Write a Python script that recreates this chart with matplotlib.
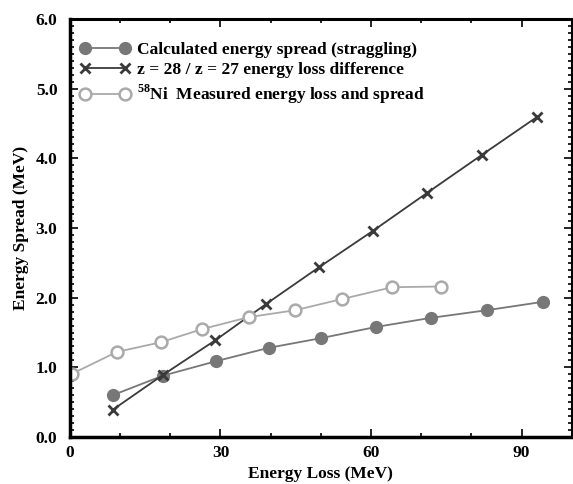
import matplotlib
matplotlib.use("Agg")
import matplotlib.pyplot as plt
from matplotlib.ticker import MultipleLocator, FormatStrFormatter

plt.rcParams['font.family'] = ['Liberation Serif', 'DejaVu Serif']
plt.rcParams['font.weight'] = 'bold'
plt.rcParams['mathtext.fontset'] = 'custom'
plt.rcParams['mathtext.rm'] = 'Liberation Serif:bold'
plt.rcParams['mathtext.bf'] = 'Liberation Serif:bold'

# Calculated energy spread (straggling)
calc_x = [8.5, 18.5, 29.2, 39.6, 50.1, 61.0, 71.9, 83.1, 94.2]
calc_y = [0.60, 0.88, 1.09, 1.28, 1.42, 1.58, 1.71, 1.82, 1.94]

# z = 28 / z = 27 energy loss difference
diff_x = [8.5, 18.5, 29.0, 39.1, 49.7, 60.4, 71.1, 82.1, 93.0]
diff_y = [0.39, 0.89, 1.39, 1.91, 2.44, 2.96, 3.50, 4.05, 4.59]

# 58Ni measured energy loss and spread
meas_x = [0.5, 9.3, 18.1, 26.4, 35.6, 44.9, 54.2, 64.2, 73.9]
meas_y = [0.91, 1.22, 1.36, 1.55, 1.72, 1.82, 1.98, 2.15, 2.16]

labels = ["Calculated energy spread (straggling)",
          "z = 28 / z = 27 energy loss difference",
          r"$^{58}$Ni  Measured energy loss and spread"]

FS = 12.5

fig = plt.figure(figsize=(5.73, 4.84), dpi=100)
ax = fig.add_axes([0.122, 0.097, 0.876, 0.864])

ax.plot(calc_x, calc_y, color='#777777', lw=1.3, marker='o', ms=8.5,
        mfc='#777777', mec='#777777', label=labels[0])
ax.plot(diff_x, diff_y, color='#3a3a3a', lw=1.3, marker='x', ms=7.5,
        mew=2, label=labels[1])
ax.plot(meas_x, meas_y, color='#aaaaaa', lw=1.3, marker='o', ms=8.5,
        mfc='white', mec='#aaaaaa', mew=1.8, label=labels[2])

ax.set_xlim(0, 100)
ax.set_ylim(0, 6)
ax.xaxis.set_major_locator(MultipleLocator(30))
ax.xaxis.set_minor_locator(MultipleLocator(10))
ax.yaxis.set_major_locator(MultipleLocator(1))
ax.yaxis.set_minor_locator(MultipleLocator(0.1))
ax.yaxis.set_major_formatter(FormatStrFormatter('%.1f'))
ax.tick_params(which='both', direction='in', top=True, right=True, width=1.2, labelsize=FS)
ax.tick_params(which='major', length=6)
ax.tick_params(which='minor', length=3)
ax.tick_params(axis='y', which='major', pad=9)
ax.tick_params(axis='x', which='major', pad=6)
ax.spines['left'].set_linewidth(2.5)
ax.spines['bottom'].set_linewidth(2.5)
ax.spines['top'].set_linewidth(2.2)
ax.spines['right'].set_linewidth(1.5)

ax.set_xlabel("Energy Loss (MeV)", fontsize=FS, fontweight='bold', labelpad=3)
ax.set_ylabel("Energy Spread (MeV)", fontsize=FS, fontweight='bold', labelpad=5)

leg = ax.legend(loc='upper left', bbox_to_anchor=(0.0, 0.968), frameon=False,
                numpoints=2, handlelength=2.9, handletextpad=0.4,
                labelspacing=0.25, borderaxespad=0.5, borderpad=0.05,
                prop={'weight': 'bold', 'size': FS})

fig.savefig("out.png", dpi=100)
